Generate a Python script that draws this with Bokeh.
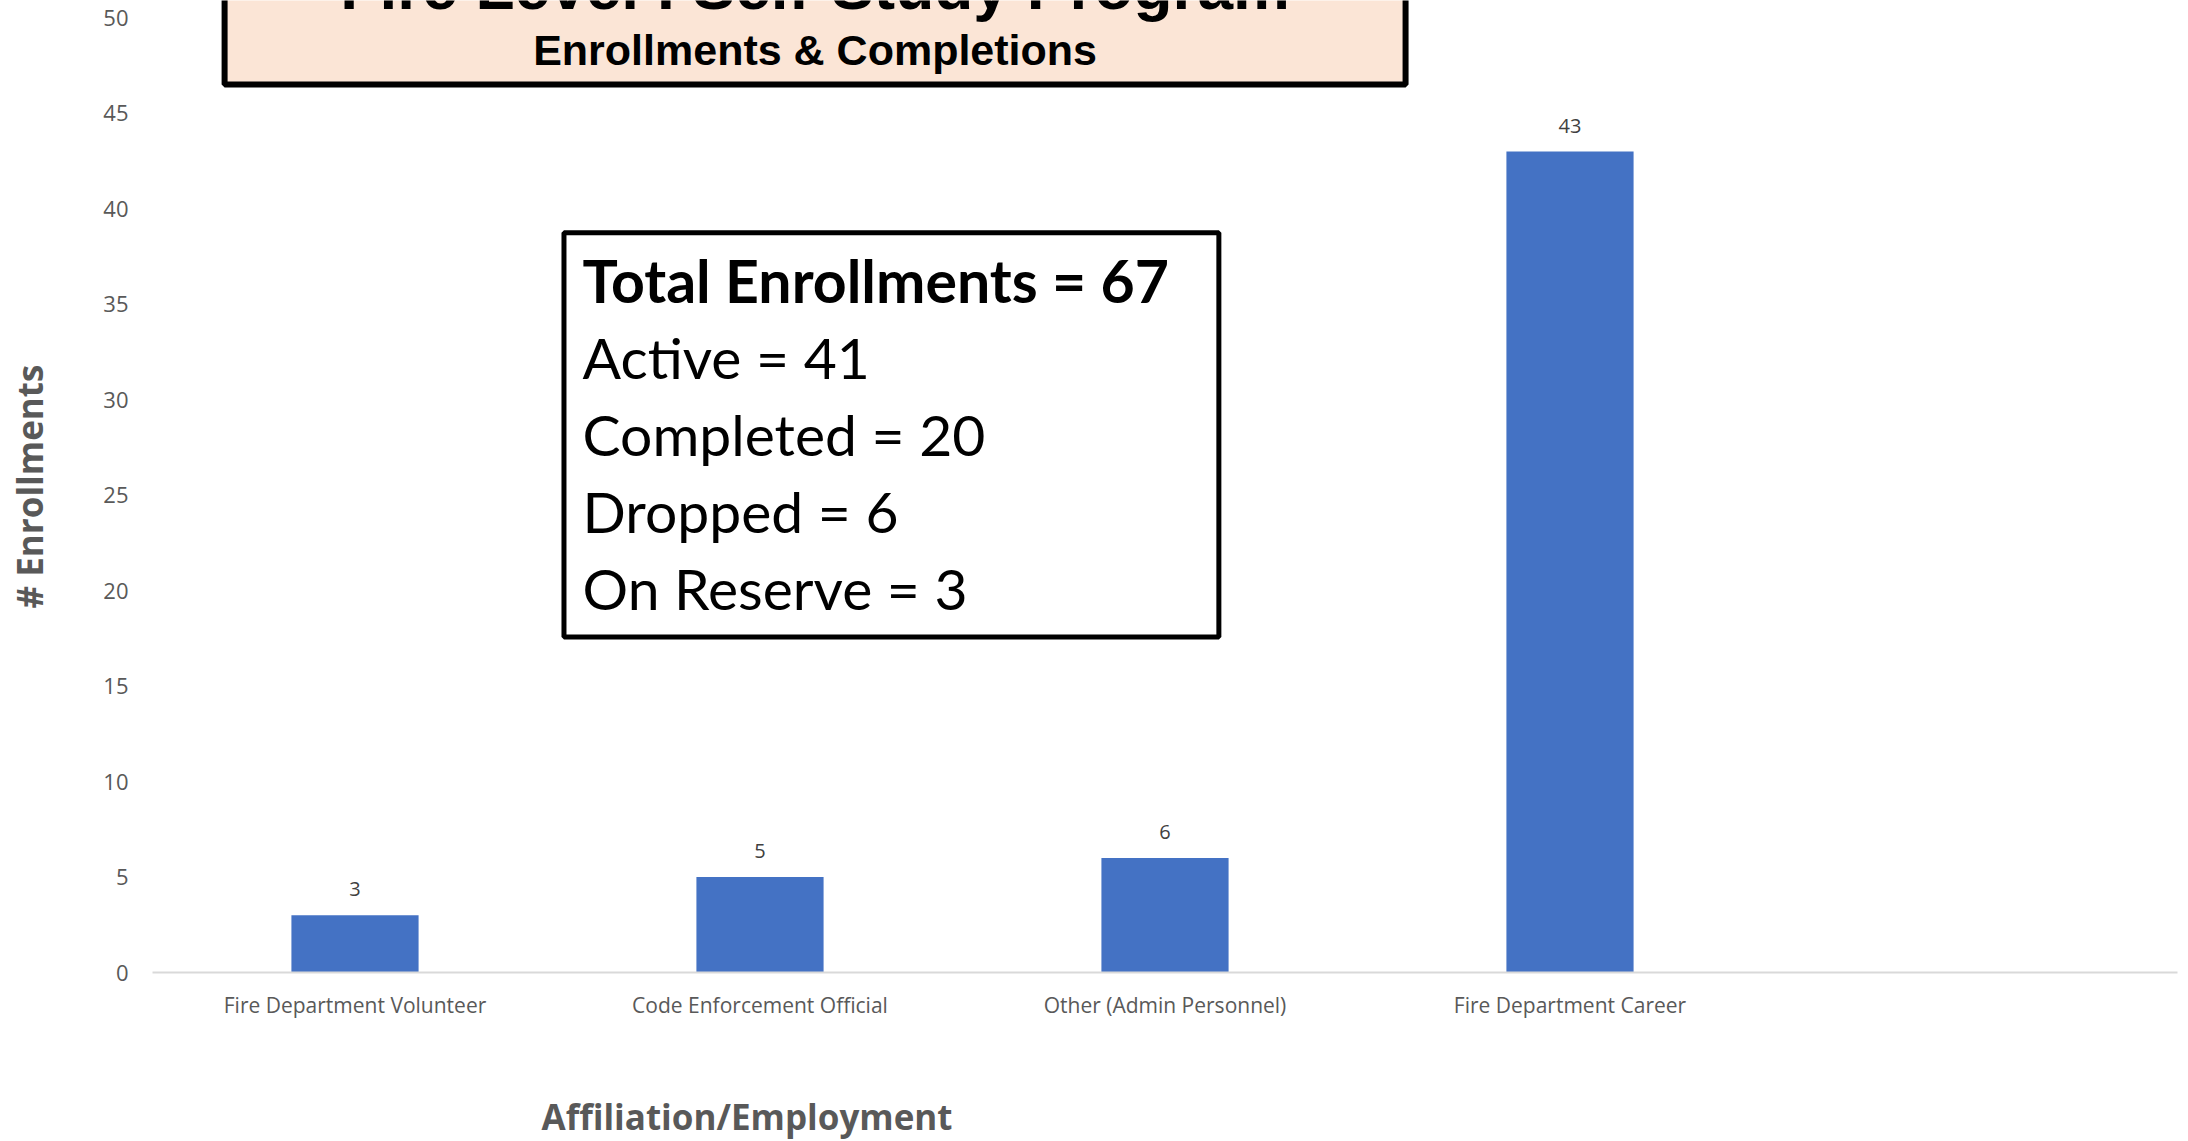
from bokeh.plotting import figure
from bokeh.models import Range1d, FixedTicker, Title
from bokeh.embed import file_html
from bokeh.resources import INLINE
from bokeh.core.properties import value

# ---- data ----
categories = ["Fire Department Volunteer", "Code Enforcement Official",
              "Other (Admin Personnel)", "Fire Department Career"]
enrollments = [3, 5, 6, 43]
y_ticks = [0, 5, 10, 15, 20, 25, 30, 35, 40, 45, 50]
title_text = "Fire Level I Self-Study Program"
subtitle_text = "Enrollments & Completions"
summary_lines = ["Total Enrollments = 67", "Active = 41", "Completed = 20",
                 "Dropped = 6", "On Reserve = 3"]
x_title = "Affiliation/Employment"
y_title = "# Enrollments"

n_slots = 5  # one empty slot on the right, as in the original
xs = [i + 0.5 for i in range(len(categories))]

p = figure(width=2188, height=1141,
           x_range=Range1d(0, n_slots), y_range=Range1d(0, 50.91),
           output_backend="svg", toolbar_location=None,
           min_border_left=152, min_border_right=11,
           min_border_top=0, min_border_bottom=169)
p.outline_line_color = None
p.xgrid.grid_line_color = None
p.ygrid.grid_line_color = None

# bars
p.vbar(x=xs, top=enrollments, width=0.314, bottom=0,
       fill_color="#4472C4", line_color=None)
p.text(x=xs, y=enrollments, text=[str(v) for v in enrollments],
       text_align="center", text_baseline="middle", y_offset=-26,
       text_font=value("Open Sans"), text_font_size="20px", text_color="#404040")

# y axis
p.yaxis.ticker = FixedTicker(ticks=y_ticks)
p.yaxis.axis_line_color = None
p.yaxis.major_tick_line_color = None
p.yaxis.minor_tick_line_color = None
p.yaxis.major_tick_out = 0
p.yaxis.major_tick_in = 0
p.yaxis.major_label_standoff = 24
p.yaxis.major_label_text_font = "Open Sans"
p.yaxis.major_label_text_font_size = "22px"
p.yaxis.major_label_text_color = "#595959"
p.yaxis.axis_label = y_title
p.yaxis.axis_label_standoff = 47
p.yaxis.axis_label_text_font = "Open Sans"
p.yaxis.axis_label_text_font_style = "bold"
p.yaxis.axis_label_text_font_size = "35px"
p.yaxis.axis_label_text_color = "#595959"

# x axis
p.xaxis.ticker = FixedTicker(ticks=xs)
p.xaxis.major_label_overrides = {x: c for x, c in zip(xs, categories)}
p.xaxis.axis_line_color = "#D9D9D9"
p.xaxis.axis_line_width = 2
p.xaxis.major_tick_line_color = None
p.xaxis.minor_tick_line_color = None
p.xaxis.major_tick_out = 0
p.xaxis.major_tick_in = 0
p.xaxis.major_label_standoff = 18
p.xaxis.major_label_text_font = "Open Sans"
p.xaxis.major_label_text_font_size = "21px"
p.xaxis.major_label_text_color = "#595959"

# spacer, then the x axis title placed left of centre as in the original
p.add_layout(Title(text=" ", standoff=56, text_font_size="10px"), "below")
p.add_layout(Title(text=x_title, align="left", offset=389, standoff=0,
                   text_font="Open Sans", text_font_style="bold",
                   text_font_size="35px", text_color="#595959"), "below")

# title box (cut off at the top, as in the original)
p.quad(left=0.178, right=3.094, bottom=46.51, top=60,
       fill_color="#FBE5D6", line_color="black", line_width=6)
p.text(x=[1.636], y=[49.72], text=[title_text], text_align="center",
       text_baseline="bottom", text_font=value("Liberation Sans"),
       text_font_style="bold", text_font_size="64px", text_color="black")
p.text(x=[1.636], y=[48.3], text=[subtitle_text], text_align="center",
       text_baseline="middle", text_font=value("Liberation Sans"),
       text_font_style="bold", text_font_size="43px", text_color="black")

# summary box
p.quad(left=1.016, right=2.633, bottom=17.57, top=38.74,
       fill_color="white", line_color="black", line_width=5)
line_top = 36.25
line_step = 4.03
ys = [line_top - i * line_step for i in range(len(summary_lines))]
p.text(x=[1.062], y=ys[:1], text=summary_lines[:1], text_align="left",
       text_baseline="middle", text_font=value("Lato"), text_font_style="bold",
       text_font_size="59px", text_color="black")
p.text(x=[1.062] * (len(summary_lines) - 1), y=ys[1:], text=summary_lines[1:],
       text_align="left", text_baseline="middle", text_font=value("Lato"),
       text_font_size="57px", text_color="black")

open("out.html", "w").write(file_html(p, INLINE))
